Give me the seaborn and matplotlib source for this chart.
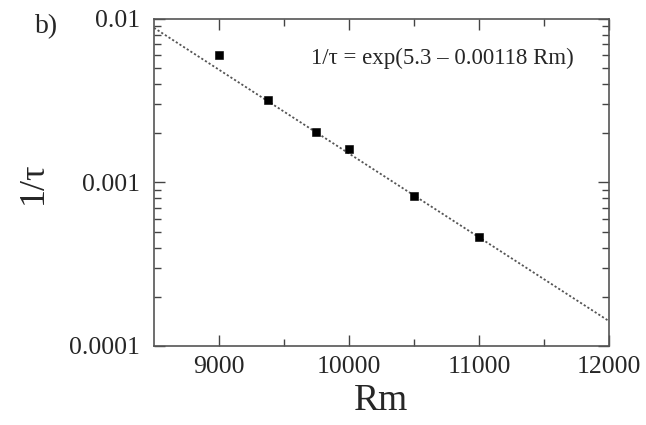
import matplotlib
matplotlib.use("Agg")
import matplotlib.pyplot as plt
import seaborn as sns
import pandas as pd
from matplotlib.ticker import FixedLocator, LogLocator, NullFormatter, FixedFormatter

# data
rm_values = [9000, 9375, 9750, 10000, 10500, 11000]
inv_tau = [0.00603, 0.00320, 0.00204, 0.00160, 0.000826, 0.000467]

# fit line endpoints: 1/tau = exp(5.3 - 0.00118 Rm)
fit_rm = [8500, 12000]
fit_val = [0.00883, 0.000142]

x_ticks = [9000, 10000, 11000, 12000]
x_tick_labels = ["9000", "10000", "11000", "12000"]
y_ticks = [0.0001, 0.001, 0.01]
y_tick_labels = ["0.0001", "0.001", "0.01"]

sns.set_style("ticks")
plt.rcParams['font.family'] = ['Liberation Serif', 'DejaVu Serif']

fig = plt.figure(figsize=(6.46, 4.25), dpi=100)
ax = fig.add_axes([0.2384, 0.1859, 0.7043, 0.7694])

pts = pd.DataFrame({"Rm": rm_values, "inv_tau": inv_tau})
fit = pd.DataFrame({"Rm": fit_rm, "inv_tau": fit_val})

sns.lineplot(data=fit, x="Rm", y="inv_tau", ax=ax, color="#555555",
             linestyle=(0, (1.2, 1.2)), linewidth=1.3)
sns.scatterplot(data=pts, x="Rm", y="inv_tau", ax=ax, marker="s", s=26,
                color="black", edgecolor="black", zorder=5)

ax.set_yscale("log")
ax.set_xlim(8500, 12000)
ax.set_ylim(0.0001, 0.01)

ax.xaxis.set_major_locator(FixedLocator(x_ticks))
ax.xaxis.set_major_formatter(FixedFormatter(x_tick_labels))
ax.xaxis.set_minor_locator(FixedLocator([9500, 10500, 11500]))
ax.yaxis.set_major_locator(FixedLocator(y_ticks))
ax.yaxis.set_major_formatter(FixedFormatter(y_tick_labels))
ax.yaxis.set_minor_locator(LogLocator(base=10, subs=range(2, 10)))
ax.yaxis.set_minor_formatter(NullFormatter())

ax.tick_params(which="both", direction="in", top=True, right=True,
               color="#444444", width=1.0)
ax.tick_params(which="major", length=8, labelsize=18.5)
ax.tick_params(axis="x", which="major", pad=7)
ax.tick_params(axis="y", which="major", pad=10)
ax.tick_params(which="minor", length=5)
for sp in ax.spines.values():
    sp.set_visible(True)
    sp.set_color("#555555")
    sp.set_linewidth(1.2)

ax.set_xlabel("Rm", fontsize=27, labelpad=4)
ax.set_ylabel("1/τ", fontsize=26, labelpad=14)

ax.text(0.345, 0.88, "1/τ = exp(5.3 – 0.00118 Rm)", transform=ax.transAxes,
        fontsize=16.5, ha="left", va="center")
fig.text(0.054, 0.937, "b)", fontsize=20, ha="left", va="center")

fig.savefig("out.png", dpi=100)
